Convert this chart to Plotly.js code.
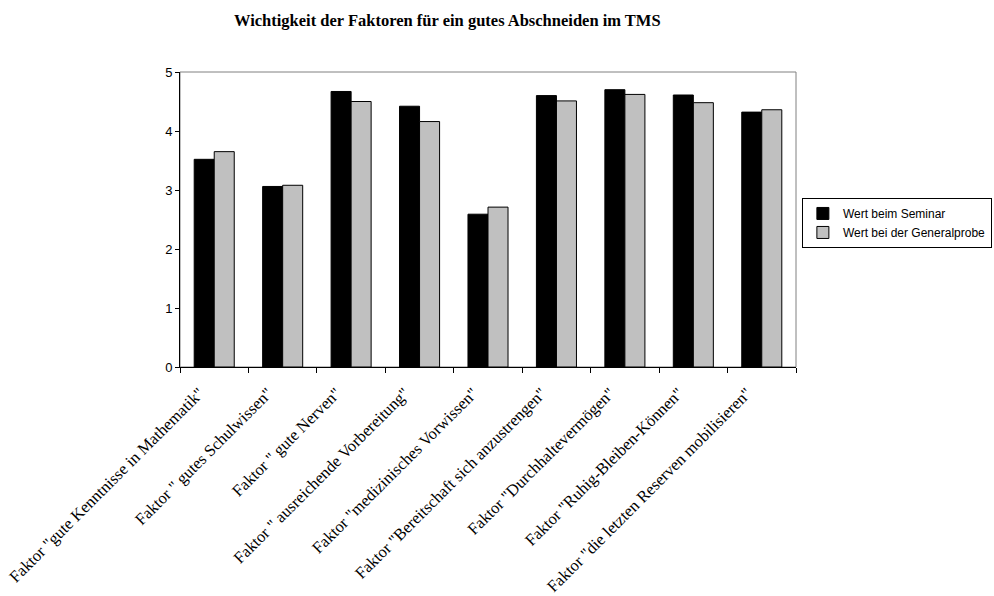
<!DOCTYPE html>
<html>
<head>
<meta charset="utf-8">
<script src="https://cdn.plot.ly/plotly-3.0.1.min.js"></script>
<style>
  html, body { margin: 0; padding: 0; background: #fff; }
  #plot { width: 994px; height: 596px; }
</style>
</head>
<body>
<div id="plot"></div>
<script>
var faktoren = [
    'Faktor "gute Kenntnisse in Mathematik"',
    'Faktor " gutes Schulwissen"',
    'Faktor " gute Nerven"',
    'Faktor " ausreichende Vorbereitung"',
    'Faktor "medizinisches Vorwissen"',
    'Faktor "Bereitschaft sich anzustrengen"',
    'Faktor "Durchhaltevermögen"',
    'Faktor "Ruhig-Bleiben-Können"',
    'Faktor "die letzten Reserven mobilisieren"'
];
var seminar = [3.52, 3.06, 4.67, 4.42, 2.59, 4.60, 4.70, 4.61, 4.32];
var generalprobe = [3.65, 3.08, 4.50, 4.16, 2.71, 4.51, 4.62, 4.48, 4.36];

var seminarBars = {
    x: faktoren,
    y: seminar,
    name: 'Wert beim Seminar',
    type: 'bar',
    marker: {color: '#000000', line: {color: '#000000', width: 1}}
}
var probeBars = {
    x: faktoren,
    y: generalprobe,
    name: 'Wert bei der Generalprobe',
    type: 'bar',
    marker: {color: '#c0c0c0', line: {color: '#000000', width: 1}}
}

var layout = {
    width: 994,
    height: 596,
    margin: {l: 180, r: 198, t: 72, b: 229, autoexpand: false},
    paper_bgcolor: '#ffffff',
    plot_bgcolor: '#ffffff',
    title: {
        text: '<b>Wichtigkeit der Faktoren für ein gutes Abschneiden im TMS</b>',
        font: {family: 'Liberation Serif', size: 16.5, color: '#000'},
        x: 0.45, xanchor: 'center', y: 0.966, yanchor: 'middle'
    },
    barmode: 'group',
    bargap: 0.415,
    bargroupgap: 0,
    showlegend: true,
    legend: {
        x: 1.318, xanchor: 'right',
        y: 0.573, yanchor: 'top',
        bordercolor: '#000', borderwidth: 1,
        font: {family: 'Liberation Sans', size: 12, color: '#000'},
        tracegroupgap: 0,
        itemwidth: 30
    },
    xaxis: {
        type: 'category',
        automargin: false,
        tickson: 'boundaries',
        ticks: 'outside', ticklen: 5, tickcolor: '#000',
        showline: true, linecolor: '#000', linewidth: 1,
        tickangle: -45,
        ticklabelstandoff: 9,
        ticklabelshift: -15,
        tickfont: {family: 'Liberation Serif', size: 16.5, color: '#000'},
        showgrid: false
    },
    yaxis: {
        range: [0, 5],
        dtick: 1,
        automargin: false,
        ticks: 'outside', ticklen: 4, tickcolor: '#000',
        showline: true, linecolor: '#000', linewidth: 1,
        showgrid: false, zeroline: false,
        tickfont: {family: 'Liberation Sans', size: 13, color: '#000'}
    },
    shapes: [{
        type: 'rect', xref: 'paper', yref: 'paper',
        x0: 0, x1: 1, y0: 0, y1: 1,
        line: {color: '#808080', width: 1},
        layer: 'below'
    }]
}

Plotly.newPlot('plot', [seminarBars, probeBars], layout, {displayModeBar: false})
</script>
</body>
</html>
